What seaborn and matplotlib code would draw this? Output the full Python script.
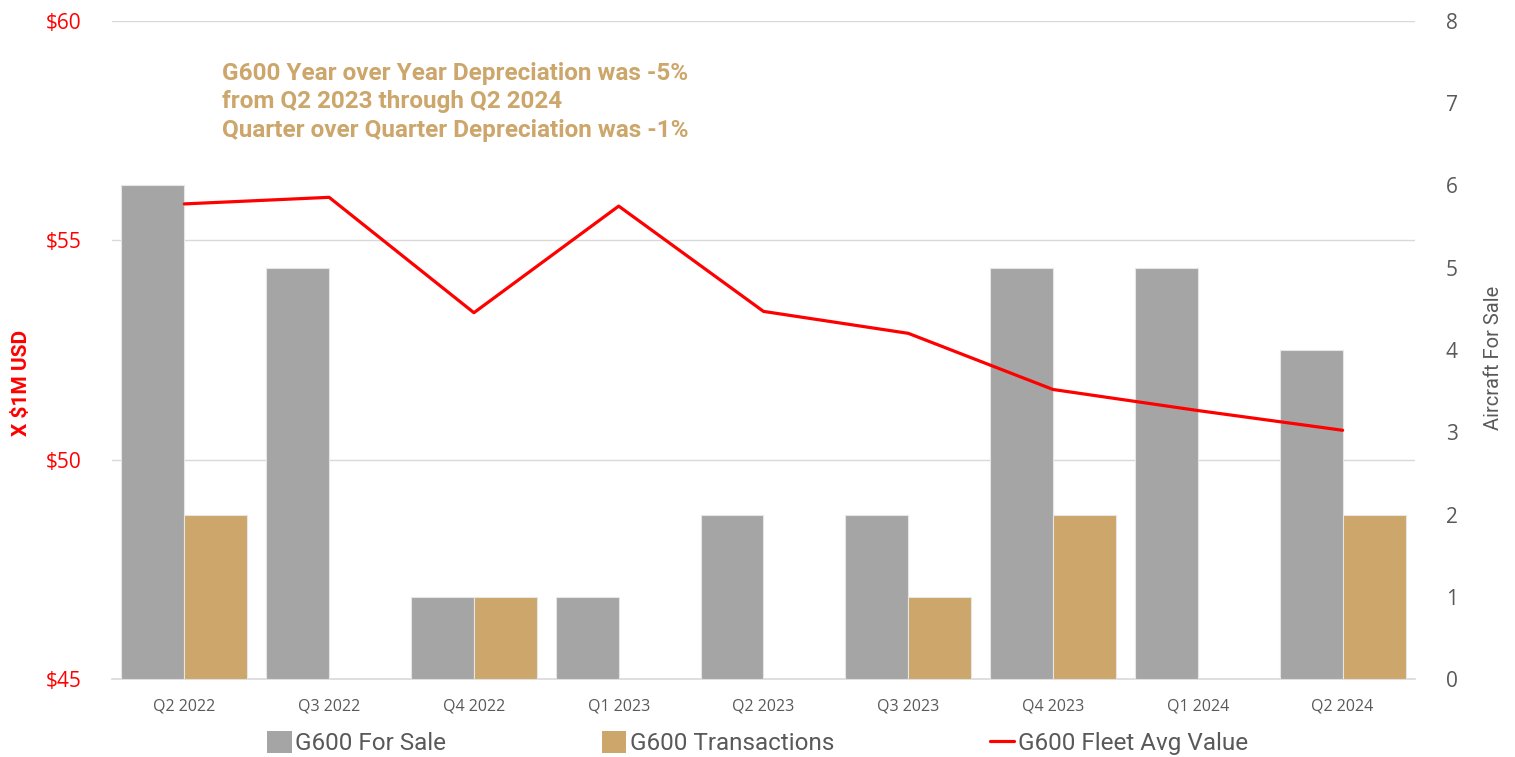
import matplotlib
matplotlib.use("Agg")
import matplotlib.pyplot as plt
import seaborn as sns
import pandas as pd
import numpy as np
from matplotlib.patches import Patch
from matplotlib.lines import Line2D
from matplotlib.ticker import FuncFormatter

quarters = ["Q2 2022", "Q3 2022", "Q4 2022", "Q1 2023", "Q2 2023",
            "Q3 2023", "Q4 2023", "Q1 2024", "Q2 2024"]
for_sale = [6, 5, 1, 1, 2, 2, 5, 5, 4]
transactions = [2, 0, 1, 0, 0, 1, 2, 0, 2]
fleet_avg_value = [55.83, 55.98, 53.35, 55.78, 53.38, 52.88, 51.6, 51.12, 50.67]

left_ticks = [45, 50, 55, 60]
right_ticks = [0, 1, 2, 3, 4, 5, 6, 7, 8]

series_names = ["G600 For Sale", "G600 Transactions", "G600 Fleet Avg Value"]
annotation = ("G600 Year over Year Depreciation was -5%\n"
              "from Q2 2023 through Q2 2024\n"
              "Quarter over Quarter Depreciation was -1%")

GRAY = "#A5A5A5"
GOLD = "#CCA66A"
RED = "#FF0000"
TXT = "#595959"

sns.set_theme(style="white")
plt.rcParams["font.family"] = ["Open Sans", "DejaVu Sans"]

bars = pd.DataFrame({
    "quarter": quarters * 2,
    "series": [series_names[0]] * len(quarters) + [series_names[1]] * len(quarters),
    "value": for_sale + transactions,
})
line = pd.DataFrame({"quarter": quarters, "value": fleet_avg_value})

fig = plt.figure(figsize=(15.15, 7.57), dpi=100)
ax = fig.add_axes([0.0739, 0.103, 0.8601, 0.8693])

# bars on a twin axis (right scale)
ax2 = ax.twinx()
sns.barplot(data=bars, x="quarter", y="value", hue="series", order=quarters,
            hue_order=series_names[:2], palette=[GRAY, GOLD], width=0.87,
            saturation=1, edgecolor="#E6E6E6", linewidth=0.8, ax=ax2,
            legend=False, errorbar=None)
ax2.set_ylim(0, 8)
ax2.set_yticks(right_ticks)
ax2.set_ylabel("Aircraft For Sale", color=TXT, fontsize=14.5,
               family=["Roboto", "DejaVu Sans"])
ax2.yaxis.set_label_coords(1.0526, 0.488)

# line on top axis (left scale)
ax3 = ax.twinx()
sns.pointplot(data=line, x="quarter", y="value", order=quarters, color=RED,
              markers="", linewidth=2.3, errorbar=None, ax=ax3)
ax3.set_ylim(45, 60)
ax3.set_yticks([])
ax3.set_ylabel("")

# base axis: left scale + grid
ax.set_ylim(45, 60)
ax.set_yticks(left_ticks)
ax.yaxis.set_major_formatter(FuncFormatter(lambda v, p: f"${v:.0f}"))
ax.set_xlim(-0.5, len(quarters) - 0.5)
ax.set_xticks(range(len(quarters)))
ax.set_xticklabels(quarters)
ax.grid(axis="y", color="#D9D9D9", linewidth=1.0)
ax.grid(axis="x", visible=False)
ax.set_ylabel("X $1M USD", color=RED, fontsize=15, fontweight="bold",
              family=["Roboto", "DejaVu Sans"])
ax.yaxis.set_label_coords(-0.0625, 0.45)

for a in (ax, ax2, ax3):
    a.set_xlabel("")
    a.set_xlim(-0.5, len(quarters) - 0.5)
    for s in a.spines.values():
        s.set_visible(False)
    a.tick_params(length=0)
ax.spines["bottom"].set_visible(True)
ax.spines["bottom"].set_color("#D9D9D9")
ax.spines["bottom"].set_linewidth(1.2)

ax.tick_params(axis="y", colors=RED, labelsize=15, pad=22)
ax.tick_params(axis="x", colors=TXT, labelsize=11.5, pad=14)
ax2.tick_params(axis="y", colors=TXT, labelsize=15, pad=22)

ax.text(0.0846, 0.938, annotation, transform=ax.transAxes, ha="left", va="top",
        fontsize=17.5, fontweight="bold", color=GOLD, family=["Roboto", "DejaVu Sans"],
        linespacing=1.31)

handles = [Patch(facecolor=GRAY, edgecolor="none"),
           Patch(facecolor=GOLD, edgecolor="none"),
           Line2D([0], [0], color=RED, linewidth=2.3)]
leg = fig.legend(handles, series_names, loc="center", bbox_to_anchor=(0.5, 0.018),
                 ncol=3, frameon=False, handlelength=1.0, handleheight=1.0,
                 handletextpad=0.15, columnspacing=6.4,
                 prop={"family": ["Roboto", "DejaVu Sans"], "size": 17.5})
for t in leg.get_texts():
    t.set_color(TXT)

fig.savefig("out.png", dpi=100)
